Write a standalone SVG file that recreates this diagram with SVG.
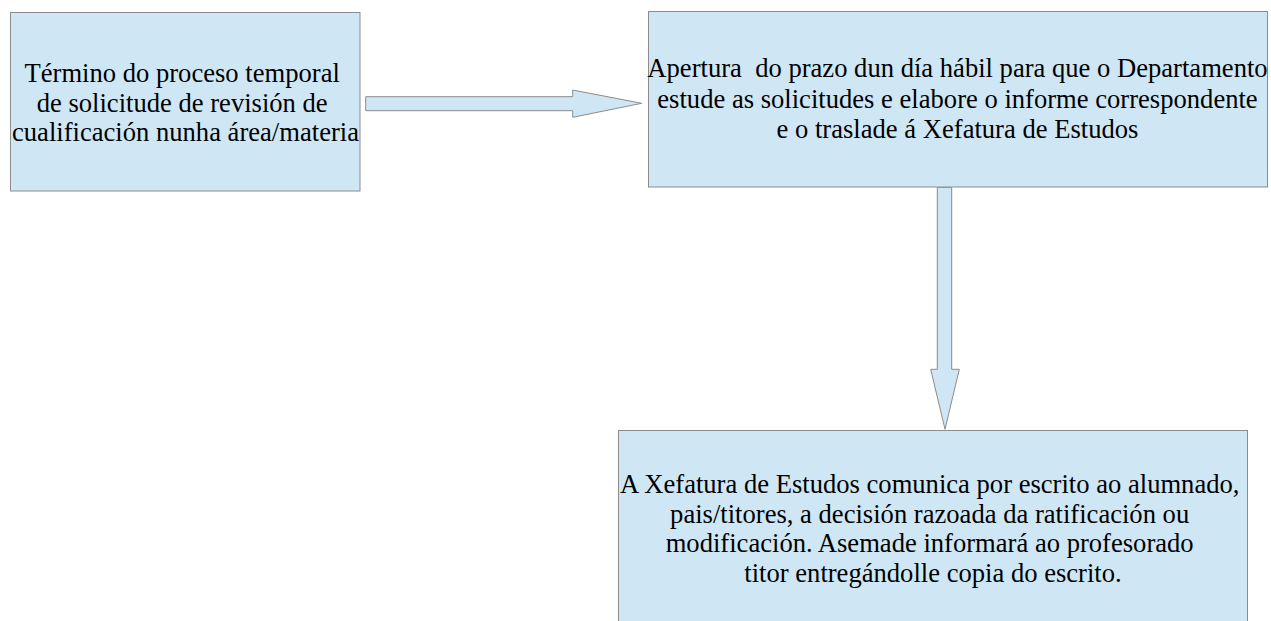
<svg xmlns="http://www.w3.org/2000/svg" width="1271" height="621" viewBox="0 0 1271 621">
  <style>
    .box { fill: #cfe7f5; stroke: #8c8c8c; stroke-width: 1; }
    .arrow { fill: #cfe7f5; stroke: #8c8c8c; stroke-width: 1; stroke-linejoin: miter; }
    .lbl { font-family: "Liberation Serif", "Times New Roman", serif; font-size: 26.6px; fill: #000; text-anchor: middle; }
  </style>
  <rect width="1271" height="621" fill="#ffffff"/>
  <g id="connectors">
    <path class="arrow" d="M365.7,96.7 L572.7,96.7 L572.7,90 L641.7,103.3 L572.7,117.3 L572.7,110.7 L365.7,110.7 Z"/>
    <path class="arrow" d="M937.3,187.3 L951.7,187.3 L951.7,369.3 L959.3,369.3 L945,429.3 L930.7,369.3 L937.3,369.3 Z"/>
  </g>
  <g id="node1">
    <rect class="box" x="10.5" y="12.5" width="349.5" height="178.5"/>
    <text class="lbl">
      <tspan x="185.5" y="82">Término do proceso temporal</tspan>
      <tspan x="185.5" y="112">de solicitude de revisión de</tspan>
      <tspan x="185.5" y="141">cualificación nunha área/materia</tspan>
    </text>
  </g>
  <g id="node2">
    <rect class="box" x="648.5" y="11.5" width="619" height="175.5"/>
    <text class="lbl" xml:space="preserve"><tspan x="957.5" y="77">Apertura  do prazo dun día hábil para que o Departamento</tspan><tspan x="957.5" y="108">estude as solicitudes e elabore o informe correspondente</tspan><tspan x="957.5" y="138">e o traslade á Xefatura de Estudos</tspan></text>
  </g>
  <g id="node3">
    <rect class="box" x="618.5" y="430.5" width="629" height="200"/>
    <text class="lbl">
      <tspan x="933" y="493">A Xefatura de Estudos comunica por escrito ao alumnado,</tspan>
      <tspan x="933" y="522.5">pais/titores, a decisión razoada da ratificación ou</tspan>
      <tspan x="933" y="552">modificación. Asemade informará ao profesorado</tspan>
      <tspan x="933" y="582">titor entregándolle copia do escrito.</tspan>
    </text>
  </g>
</svg>
